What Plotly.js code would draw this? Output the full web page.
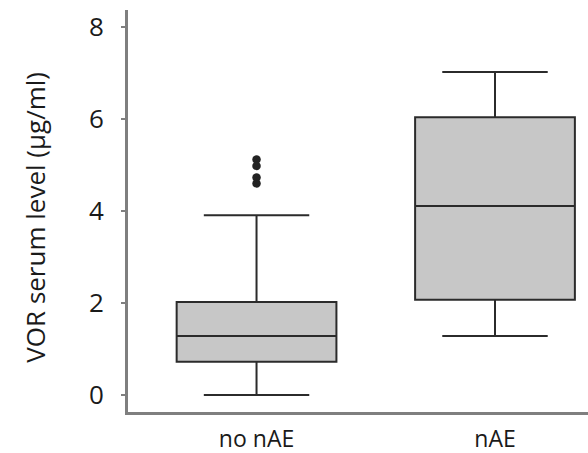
<!DOCTYPE html>
<html>
<head>
<meta charset="utf-8">
<script src="https://cdn.plot.ly/plotly-3.0.1.min.js"></script>
<style>
  html, body { margin: 0; padding: 0; background: #ffffff; }
  #chart { width: 588px; height: 453px; }
</style>
</head>
<body>
<div id="chart"></div>
<script>
// Groups and their box-plot summary statistics (µg/ml)
const groups      = ['no nAE', 'nAE'];
const lowerWhisk  = [0.0, 1.28];
const q1Values    = [0.72, 2.07];
const medians     = [1.28, 4.11];
const q3Values    = [2.02, 6.04];
const upperWhisk  = [3.91, 7.02];

// Outlying values in the "no nAE" group
const outlierGroup  = ['no nAE', 'no nAE', 'no nAE', 'no nAE'];
const outlierValues = [5.12, 4.98, 4.73, 4.60];

// Y-axis tick values and label
const yTicks = [0, 2, 4, 6, 8];
const yLabel = 'VOR serum level (µg/ml)';

const fontFamily = '"Open Sans", "Noto Sans", sans-serif';
const textColor = '#1a1a1a';

const boxTrace = {
  type: 'box',
  x: groups,
  q1: q1Values,
  median: medians,
  q3: q3Values,
  lowerfence: lowerWhisk,
  upperfence: upperWhisk,
  width: 0.67,
  whiskerwidth: 0.66,
  fillcolor: '#c7c7c7',
  line: { color: '#2b2b2b', width: 2 },
  boxpoints: false,
  hoverinfo: 'skip',
  showlegend: false
};

const outlierTrace = {
  type: 'scatter',
  mode: 'markers',
  x: outlierGroup,
  y: outlierValues,
  marker: { color: '#222222', size: 8.5, symbol: 'circle' },
  hoverinfo: 'skip',
  showlegend: false
};

const layout = {
  width: 588,
  height: 453,
  margin: { l: 128, r: 0, t: 10, b: 41 },
  paper_bgcolor: '#ffffff',
  plot_bgcolor: '#ffffff',
  font: { family: fontFamily, color: textColor, size: 24 },
  xaxis: {
    type: 'category',
    categoryorder: 'array',
    categoryarray: groups,
    range: [-0.539, 1.39],
    showgrid: false,
    zeroline: false,
    showline: true,
    linecolor: '#7f7f7f',
    linewidth: 3,
    ticks: '',
    ticklabelstandoff: 4,
    tickfont: { family: fontFamily, size: 23, color: textColor },
    fixedrange: true
  },
  yaxis: {
    range: [-0.37, 8.37],
    tickvals: yTicks,
    ticktext: yTicks.map(String),
    showgrid: false,
    zeroline: false,
    showline: true,
    linecolor: '#7f7f7f',
    linewidth: 3,
    ticks: 'outside',
    ticklen: 4,
    tickwidth: 2,
    tickcolor: '#7f7f7f',
    ticklabelstandoff: 12,
    tickfont: { family: fontFamily, size: 26, color: textColor },
    automargin: false,
    fixedrange: true
  },
  // Vertical y-axis label placed beside the tick labels
  annotations: [{
    text: yLabel,
    textangle: -90,
    xref: 'paper', yref: 'paper',
    x: -0.203, y: 0.485,
    xanchor: 'center', yanchor: 'middle',
    showarrow: false,
    font: { family: fontFamily, size: 26, color: textColor }
  }]
};

Plotly.newPlot('chart', [boxTrace, outlierTrace], layout, { displayModeBar: false, staticPlot: true });
</script>
</body>
</html>
